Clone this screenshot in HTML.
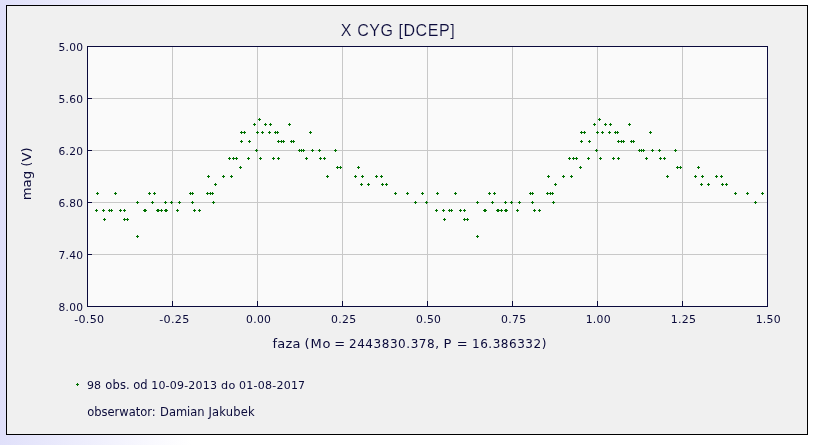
<!DOCTYPE html>
<html lang="pl"><head><meta charset="utf-8"><title>X CYG [DCEP]</title>
<style>html,body{margin:0;padding:0;background:#fff}svg{display:block}</style></head>
<body>
<svg width="814" height="445" viewBox="0 0 814 445">
<defs><linearGradient id="bg" x1="0" y1="0" x2="1" y2="0"><stop offset="0" stop-color="#e0e0fa"/><stop offset="0.235" stop-color="#ffffff"/><stop offset="1" stop-color="#ffffff"/></linearGradient></defs>
<rect x="0" y="0" width="814" height="445" fill="url(#bg)"/>
<g shape-rendering="crispEdges">
<rect x="6" y="5" width="802" height="430" fill="#000000"/>
<rect x="7" y="6" width="800" height="428" fill="#f0f0f0"/>
<rect x="87" y="46" width="681" height="261" fill="#0a0a3c"/>
<rect x="88" y="47" width="679" height="259" fill="#fafafa"/>
<rect x="172" y="47" width="1" height="259" fill="#c8c8c8"/>
<rect x="257" y="47" width="1" height="259" fill="#c8c8c8"/>
<rect x="342" y="47" width="1" height="259" fill="#c8c8c8"/>
<rect x="427" y="47" width="1" height="259" fill="#c8c8c8"/>
<rect x="512" y="47" width="1" height="259" fill="#c8c8c8"/>
<rect x="597" y="47" width="1" height="259" fill="#c8c8c8"/>
<rect x="682" y="47" width="1" height="259" fill="#c8c8c8"/>
<rect x="88" y="98" width="679" height="1" fill="#c8c8c8"/>
<rect x="88" y="150" width="679" height="1" fill="#c8c8c8"/>
<rect x="88" y="202" width="679" height="1" fill="#c8c8c8"/>
<rect x="88" y="254" width="679" height="1" fill="#c8c8c8"/>
<rect x="172" y="301" width="1" height="5" fill="#0a0a3c"/>
<rect x="257" y="301" width="1" height="5" fill="#0a0a3c"/>
<rect x="342" y="301" width="1" height="5" fill="#0a0a3c"/>
<rect x="427" y="301" width="1" height="5" fill="#0a0a3c"/>
<rect x="512" y="301" width="1" height="5" fill="#0a0a3c"/>
<rect x="597" y="301" width="1" height="5" fill="#0a0a3c"/>
<rect x="682" y="301" width="1" height="5" fill="#0a0a3c"/>
<rect x="88" y="98" width="4" height="1" fill="#0a0a3c"/>
<rect x="88" y="150" width="4" height="1" fill="#0a0a3c"/>
<rect x="88" y="202" width="4" height="1" fill="#0a0a3c"/>
<rect x="88" y="254" width="4" height="1" fill="#0a0a3c"/>
<path d="M258 119h3v1h-3zM259 118h1v3h-1zM598 119h3v1h-3zM599 118h1v3h-1zM253 124h3v1h-3zM254 123h1v3h-1zM593 124h3v1h-3zM594 123h1v3h-1zM264 124h3v1h-3zM265 123h1v3h-1zM604 124h3v1h-3zM605 123h1v3h-1zM269 124h3v1h-3zM270 123h1v3h-1zM609 124h3v1h-3zM610 123h1v3h-1zM288 124h3v1h-3zM289 123h1v3h-1zM628 124h3v1h-3zM629 123h1v3h-1zM240 132h3v1h-3zM241 131h1v3h-1zM580 132h3v1h-3zM581 131h1v3h-1zM243 132h3v1h-3zM244 131h1v3h-1zM583 132h3v1h-3zM584 131h1v3h-1zM256 132h3v1h-3zM257 131h1v3h-1zM596 132h3v1h-3zM597 131h1v3h-1zM261 132h3v1h-3zM262 131h1v3h-1zM601 132h3v1h-3zM602 131h1v3h-1zM268 132h3v1h-3zM269 131h1v3h-1zM608 132h3v1h-3zM609 131h1v3h-1zM274 132h3v1h-3zM275 131h1v3h-1zM614 132h3v1h-3zM615 131h1v3h-1zM276 132h3v1h-3zM277 131h1v3h-1zM616 132h3v1h-3zM617 131h1v3h-1zM309 132h3v1h-3zM310 131h1v3h-1zM649 132h3v1h-3zM650 131h1v3h-1zM240 141h3v1h-3zM241 140h1v3h-1zM580 141h3v1h-3zM581 140h1v3h-1zM248 141h3v1h-3zM249 140h1v3h-1zM588 141h3v1h-3zM589 140h1v3h-1zM277 141h3v1h-3zM278 140h1v3h-1zM617 141h3v1h-3zM618 140h1v3h-1zM280 141h3v1h-3zM281 140h1v3h-1zM620 141h3v1h-3zM621 140h1v3h-1zM282 141h3v1h-3zM283 140h1v3h-1zM622 141h3v1h-3zM623 140h1v3h-1zM290 141h3v1h-3zM291 140h1v3h-1zM630 141h3v1h-3zM631 140h1v3h-1zM292 141h3v1h-3zM293 140h1v3h-1zM632 141h3v1h-3zM633 140h1v3h-1zM255 150h3v1h-3zM256 149h1v3h-1zM595 150h3v1h-3zM596 149h1v3h-1zM298 150h3v1h-3zM299 149h1v3h-1zM638 150h3v1h-3zM639 149h1v3h-1zM300 150h3v1h-3zM301 149h1v3h-1zM640 150h3v1h-3zM641 149h1v3h-1zM302 150h3v1h-3zM303 149h1v3h-1zM642 150h3v1h-3zM643 149h1v3h-1zM311 150h3v1h-3zM312 149h1v3h-1zM651 150h3v1h-3zM652 149h1v3h-1zM318 150h3v1h-3zM319 149h1v3h-1zM658 150h3v1h-3zM659 149h1v3h-1zM334 150h3v1h-3zM335 149h1v3h-1zM674 150h3v1h-3zM675 149h1v3h-1zM228 158h3v1h-3zM229 157h1v3h-1zM568 158h3v1h-3zM569 157h1v3h-1zM232 158h3v1h-3zM233 157h1v3h-1zM572 158h3v1h-3zM573 157h1v3h-1zM235 158h3v1h-3zM236 157h1v3h-1zM575 158h3v1h-3zM576 157h1v3h-1zM247 158h3v1h-3zM248 157h1v3h-1zM587 158h3v1h-3zM588 157h1v3h-1zM259 158h3v1h-3zM260 157h1v3h-1zM599 158h3v1h-3zM600 157h1v3h-1zM272 158h3v1h-3zM273 157h1v3h-1zM612 158h3v1h-3zM613 157h1v3h-1zM277 158h3v1h-3zM278 157h1v3h-1zM617 158h3v1h-3zM618 157h1v3h-1zM305 158h3v1h-3zM306 157h1v3h-1zM645 158h3v1h-3zM646 157h1v3h-1zM319 158h3v1h-3zM320 157h1v3h-1zM659 158h3v1h-3zM660 157h1v3h-1zM323 158h3v1h-3zM324 157h1v3h-1zM663 158h3v1h-3zM664 157h1v3h-1zM239 167h3v1h-3zM240 166h1v3h-1zM579 167h3v1h-3zM580 166h1v3h-1zM336 167h3v1h-3zM337 166h1v3h-1zM676 167h3v1h-3zM677 166h1v3h-1zM339 167h3v1h-3zM340 166h1v3h-1zM679 167h3v1h-3zM680 166h1v3h-1zM357 167h3v1h-3zM358 166h1v3h-1zM697 167h3v1h-3zM698 166h1v3h-1zM207 176h3v1h-3zM208 175h1v3h-1zM547 176h3v1h-3zM548 175h1v3h-1zM222 176h3v1h-3zM223 175h1v3h-1zM562 176h3v1h-3zM563 175h1v3h-1zM230 176h3v1h-3zM231 175h1v3h-1zM570 176h3v1h-3zM571 175h1v3h-1zM326 176h3v1h-3zM327 175h1v3h-1zM666 176h3v1h-3zM667 175h1v3h-1zM354 176h3v1h-3zM355 175h1v3h-1zM694 176h3v1h-3zM695 175h1v3h-1zM361 176h3v1h-3zM362 175h1v3h-1zM701 176h3v1h-3zM702 175h1v3h-1zM375 176h3v1h-3zM376 175h1v3h-1zM715 176h3v1h-3zM716 175h1v3h-1zM380 176h3v1h-3zM381 175h1v3h-1zM720 176h3v1h-3zM721 175h1v3h-1zM214 184h3v1h-3zM215 183h1v3h-1zM554 184h3v1h-3zM555 183h1v3h-1zM360 184h3v1h-3zM361 183h1v3h-1zM700 184h3v1h-3zM701 183h1v3h-1zM367 184h3v1h-3zM368 183h1v3h-1zM707 184h3v1h-3zM708 183h1v3h-1zM381 184h3v1h-3zM382 183h1v3h-1zM721 184h3v1h-3zM722 183h1v3h-1zM385 184h3v1h-3zM386 183h1v3h-1zM725 184h3v1h-3zM726 183h1v3h-1zM96 193h3v1h-3zM97 192h1v3h-1zM436 193h3v1h-3zM437 192h1v3h-1zM114 193h3v1h-3zM115 192h1v3h-1zM454 193h3v1h-3zM455 192h1v3h-1zM148 193h3v1h-3zM149 192h1v3h-1zM488 193h3v1h-3zM489 192h1v3h-1zM153 193h3v1h-3zM154 192h1v3h-1zM493 193h3v1h-3zM494 192h1v3h-1zM189 193h3v1h-3zM190 192h1v3h-1zM529 193h3v1h-3zM530 192h1v3h-1zM191 193h3v1h-3zM192 192h1v3h-1zM531 193h3v1h-3zM532 192h1v3h-1zM206 193h3v1h-3zM207 192h1v3h-1zM546 193h3v1h-3zM547 192h1v3h-1zM209 193h3v1h-3zM210 192h1v3h-1zM549 193h3v1h-3zM550 192h1v3h-1zM211 193h3v1h-3zM212 192h1v3h-1zM551 193h3v1h-3zM552 192h1v3h-1zM394 193h3v1h-3zM395 192h1v3h-1zM734 193h3v1h-3zM735 192h1v3h-1zM406 193h3v1h-3zM407 192h1v3h-1zM746 193h3v1h-3zM747 192h1v3h-1zM421 193h3v1h-3zM422 192h1v3h-1zM761 193h3v1h-3zM762 192h1v3h-1zM136 202h3v1h-3zM137 201h1v3h-1zM476 202h3v1h-3zM477 201h1v3h-1zM151 202h3v1h-3zM152 201h1v3h-1zM491 202h3v1h-3zM492 201h1v3h-1zM164 202h3v1h-3zM165 201h1v3h-1zM504 202h3v1h-3zM505 201h1v3h-1zM170 202h3v1h-3zM171 201h1v3h-1zM510 202h3v1h-3zM511 201h1v3h-1zM178 202h3v1h-3zM179 201h1v3h-1zM518 202h3v1h-3zM519 201h1v3h-1zM191 202h3v1h-3zM192 201h1v3h-1zM531 202h3v1h-3zM532 201h1v3h-1zM212 202h3v1h-3zM213 201h1v3h-1zM552 202h3v1h-3zM553 201h1v3h-1zM414 202h3v1h-3zM415 201h1v3h-1zM754 202h3v1h-3zM755 201h1v3h-1zM425 202h3v1h-3zM426 201h1v3h-1zM95 210h3v1h-3zM96 209h1v3h-1zM435 210h3v1h-3zM436 209h1v3h-1zM102 210h3v1h-3zM103 209h1v3h-1zM442 210h3v1h-3zM443 209h1v3h-1zM108 210h3v1h-3zM109 209h1v3h-1zM448 210h3v1h-3zM449 209h1v3h-1zM110 210h3v1h-3zM111 209h1v3h-1zM450 210h3v1h-3zM451 209h1v3h-1zM119 210h3v1h-3zM120 209h1v3h-1zM459 210h3v1h-3zM460 209h1v3h-1zM123 210h3v1h-3zM124 209h1v3h-1zM463 210h3v1h-3zM464 209h1v3h-1zM143 210h3v1h-3zM144 209h1v3h-1zM483 210h3v1h-3zM484 209h1v3h-1zM144 210h3v1h-3zM145 209h1v3h-1zM484 210h3v1h-3zM485 209h1v3h-1zM156 210h3v1h-3zM157 209h1v3h-1zM496 210h3v1h-3zM497 209h1v3h-1zM157 210h3v1h-3zM158 209h1v3h-1zM497 210h3v1h-3zM498 209h1v3h-1zM160 210h3v1h-3zM161 209h1v3h-1zM500 210h3v1h-3zM501 209h1v3h-1zM164 210h3v1h-3zM165 209h1v3h-1zM504 210h3v1h-3zM505 209h1v3h-1zM165 210h3v1h-3zM166 209h1v3h-1zM505 210h3v1h-3zM506 209h1v3h-1zM176 210h3v1h-3zM177 209h1v3h-1zM516 210h3v1h-3zM517 209h1v3h-1zM193 210h3v1h-3zM194 209h1v3h-1zM533 210h3v1h-3zM534 209h1v3h-1zM198 210h3v1h-3zM199 209h1v3h-1zM538 210h3v1h-3zM539 209h1v3h-1zM103 219h3v1h-3zM104 218h1v3h-1zM443 219h3v1h-3zM444 218h1v3h-1zM123 219h3v1h-3zM124 218h1v3h-1zM463 219h3v1h-3zM464 218h1v3h-1zM126 219h3v1h-3zM127 218h1v3h-1zM466 219h3v1h-3zM467 218h1v3h-1zM136 236h3v1h-3zM137 235h1v3h-1zM476 236h3v1h-3zM477 235h1v3h-1z" fill="#007000"/>
<path d="M76 384h3v1h-3zM77 383h1v3h-1z" fill="#007000"/>
</g>
<g font-family='"DejaVu Sans","Liberation Sans",sans-serif' fill="#0a0a3a">
<text transform="translate(58.41 51) scale(0.9716 1)" font-size="11" letter-spacing="0.3">5.00</text>
<text transform="translate(58.41 103) scale(0.9716 1)" font-size="11" letter-spacing="0.3">5.60</text>
<text transform="translate(58.50 155) scale(0.9678 1)" font-size="11" letter-spacing="0.3">6.20</text>
<text transform="translate(58.50 207) scale(0.9678 1)" font-size="11" letter-spacing="0.3">6.80</text>
<text transform="translate(58.42 259) scale(0.9713 1)" font-size="11" letter-spacing="0.3">7.40</text>
<text transform="translate(58.52 311) scale(0.9671 1)" font-size="11" letter-spacing="0.3">8.00</text>
<text transform="translate(74.20 323) scale(1.0070 1)" font-size="11" letter-spacing="0.3">-0.50</text>
<text transform="translate(159.19 323) scale(1.0169 1)" font-size="11" letter-spacing="0.3">-0.25</text>
<text transform="translate(246.09 323) scale(0.9800 1)" font-size="11" letter-spacing="0.3">0.00</text>
<text transform="translate(331.08 323) scale(0.9894 1)" font-size="11" letter-spacing="0.3">0.25</text>
<text transform="translate(416.09 323) scale(0.9800 1)" font-size="11" letter-spacing="0.3">0.50</text>
<text transform="translate(501.08 323) scale(0.9894 1)" font-size="11" letter-spacing="0.3">0.75</text>
<text transform="translate(585.65 323) scale(0.9895 1)" font-size="11" letter-spacing="0.3">1.00</text>
<text transform="translate(670.64 323) scale(0.9991 1)" font-size="11" letter-spacing="0.3">1.25</text>
<text transform="translate(755.65 323) scale(0.9895 1)" font-size="11" letter-spacing="0.3">1.50</text>
<text y="347.7"><tspan x="272.43" font-size="13" letter-spacing="0.274">faza</tspan> <tspan x="304.56" font-size="13" letter-spacing="0.771">(Mo</tspan> <tspan x="334.17" font-size="13" letter-spacing="0.000">=</tspan> <tspan x="348.99" font-size="12" letter-spacing="0.548">2443830.378,</tspan> <tspan x="443.38" font-size="13" letter-spacing="0.000">P</tspan> <tspan x="456.63" font-size="13" letter-spacing="0.000">=</tspan> <tspan x="472.00" font-size="12" letter-spacing="0.530">16.386332)</tspan></text>
<text transform="translate(31.3 200.30) rotate(-90) scale(1.0200 1)" font-size="13">mag (V)</text>
<text y="389"><tspan x="86.91" font-size="11" letter-spacing="0.033">98</tspan> <tspan x="105.18" font-size="11.5" letter-spacing="0.199">obs.</tspan> <tspan x="133.18" font-size="11.5" letter-spacing="0.024">od</tspan> <tspan x="151.20" font-size="11" letter-spacing="0.196">10-09-2013</tspan> <tspan x="221.11" font-size="11.2" letter-spacing="0.173">do</tspan> <tspan x="239.09" font-size="11" letter-spacing="0.234">01-08-2017</tspan></text>
<text y="416"><tspan x="87.13" font-size="11.5" letter-spacing="-0.003">obserwator:</tspan> <tspan x="160.07" font-size="11.5" letter-spacing="-0.037">Damian</tspan> <tspan x="208.39" font-size="11.5" letter-spacing="0.203">Jakubek</tspan></text>
</g>
<g font-family='"Liberation Sans","DejaVu Sans",sans-serif' fill="#0a0a3a" stroke="#f0f0f0" stroke-width="0.15" paint-order="fill stroke">
<text y="35.8"><tspan x="340.80" font-size="16" letter-spacing="0.000">X</tspan> <tspan x="357.30" font-size="16" letter-spacing="0.446">CYG</tspan> <tspan x="398.50" font-size="16" letter-spacing="0.550">[DCEP]</tspan></text>
</g>
</svg>
</body></html>
